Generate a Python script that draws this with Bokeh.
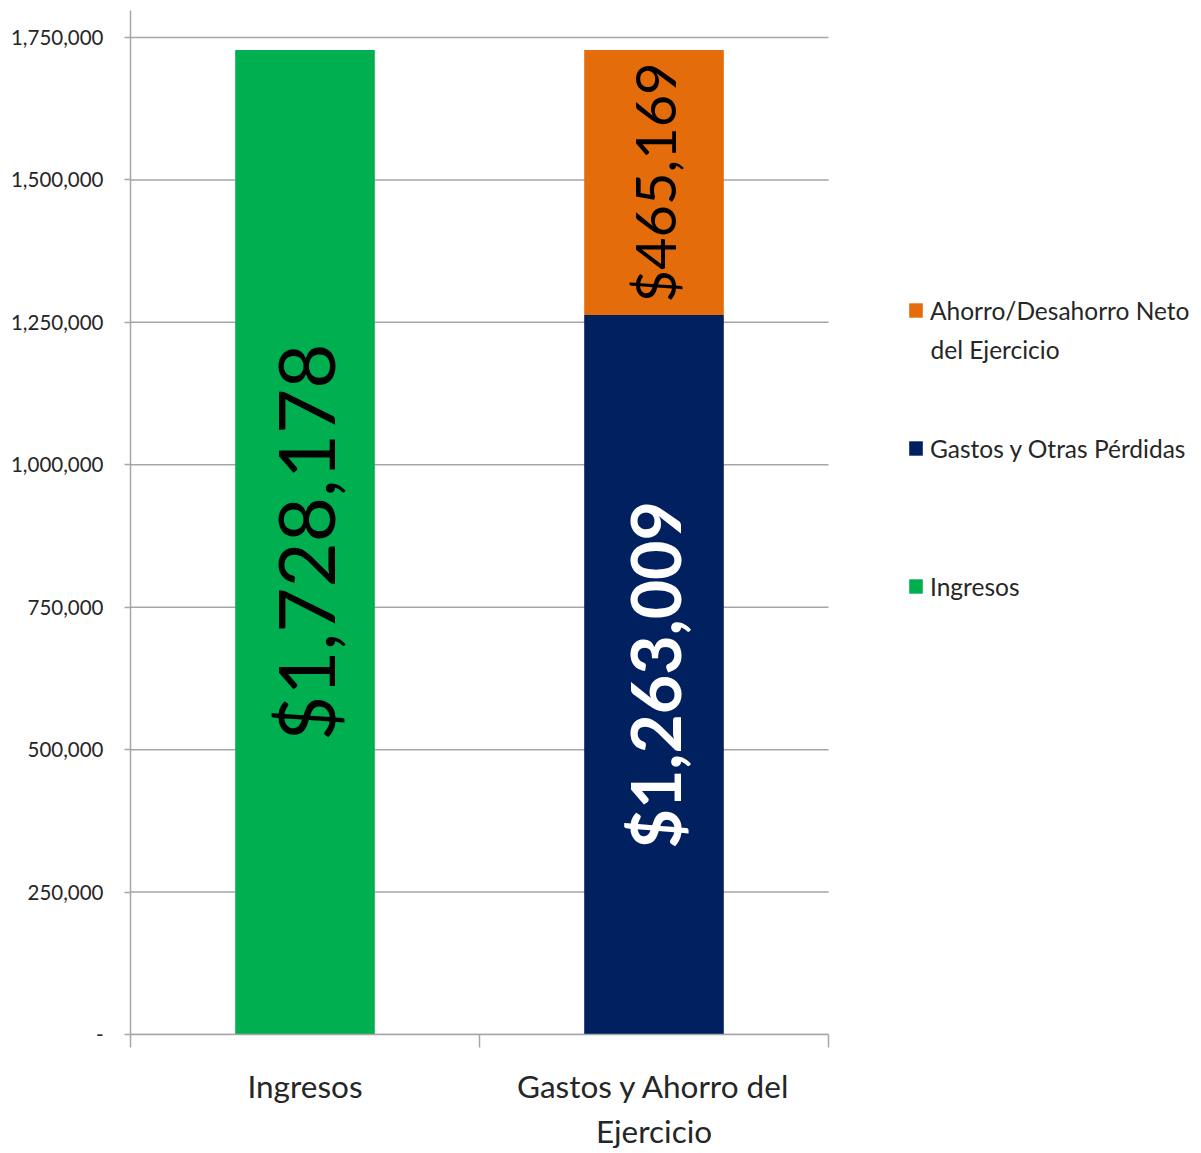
import numpy as np
from bokeh.plotting import figure
from bokeh.models import Range1d, FixedTicker, Legend, LegendItem, Label
from bokeh.core.properties import value
from bokeh.embed import file_html
from bokeh.resources import INLINE

# ---- data ----
categories = ["Ingresos", "Gastos y Ahorro del\nEjercicio"]
series_names = ["Ingresos", "Gastos y Otras Pérdidas", "Ahorro/Desahorro Neto", "del Ejercicio"]
ingresos = [1728178, 0]
gastos = [0, 1263009]
ahorro = [0, 465169]
y_ticks = [0, 250000, 500000, 750000, 1000000, 1250000, 1500000, 1750000]
y_tick_labels = ["-", "250,000", "500,000", "750,000", "1,000,000", "1,250,000", "1,500,000", "1,750,000"]

colors = ["#00B050", "#002060", "#E46C0A"]
FONT = "Lato"
GRID = "#a6a6a6"
TXT = "#262626"

n = len(categories)
x = np.arange(n) + 0.5
series = [np.array(ingresos), np.array(gastos), np.array(ahorro)]

# frame spans to the right edge so that the legend sits inside it;
# the category area itself is 698 px wide
x_end = n * 1071 / 698
p = figure(width=1201, height=1153, output_backend="svg", toolbar_location=None,
           x_range=Range1d(0, x_end), y_range=Range1d(0, 1797400),
           min_border_left=130, min_border_right=0, min_border_top=10, min_border_bottom=119)
p.outline_line_color = None
p.background_fill_color = "white"

# horizontal gridlines limited to the category area
p.xgrid.visible = False
p.ygrid.visible = False
p.segment(x0=[0] * len(y_ticks), x1=[n] * len(y_ticks), y0=y_ticks, y1=y_ticks,
          line_color=GRID, line_width=1.5)

bottom = np.zeros(n)
renderers = []
label_styles = [
    dict(size="78px", style="normal", color="black"),
    dict(size="68px", style="bold", color="white"),
    dict(size="56px", style="normal", color="black"),
]
for vals, col, st in zip(series, colors, label_styles):
    top = bottom + vals
    r = p.vbar(x=x, bottom=bottom, top=top, width=0.4, fill_color=col, line_color=None)
    renderers.append(r)
    mask = vals > 0
    p.text(x=x[mask], y=(bottom + vals / 2)[mask],
           text=["${:,}".format(int(v)) for v in vals[mask]],
           angle=np.pi / 2, text_align="center", text_baseline="middle",
           text_font=value(FONT), text_font_size=st["size"], text_font_style=st["style"],
           text_color=st["color"])
    bottom = top

# y axis
p.yaxis.ticker = FixedTicker(ticks=y_ticks)
p.yaxis.major_label_overrides = {t: l for t, l in zip(y_ticks, y_tick_labels)}
p.yaxis.major_label_text_font = FONT
p.yaxis.major_label_text_font_size = "20.5px"
p.yaxis.major_label_text_color = TXT
p.yaxis.major_tick_out = 6
p.yaxis.major_tick_in = 0
p.yaxis.minor_tick_line_color = None
p.yaxis.major_label_standoff = 21
p.yaxis.axis_line_color = GRID
p.yaxis.axis_line_width = 1.5
p.yaxis.major_tick_line_color = GRID
p.yaxis.major_tick_line_width = 1.5

# x axis
p.xaxis.bounds = (0, n)
p.xaxis.ticker = FixedTicker(ticks=list(x), minor_ticks=list(range(n + 1)))
p.xaxis.major_label_overrides = {float(xi): c for xi, c in zip(x, categories)}
p.xaxis.major_tick_line_color = None
p.xaxis.major_tick_out = 0
p.xaxis.major_tick_in = 0
p.xaxis.minor_tick_out = 13
p.xaxis.minor_tick_in = 0
p.xaxis.minor_tick_line_color = GRID
p.xaxis.minor_tick_line_width = 1.5
p.xaxis.axis_line_color = GRID
p.xaxis.axis_line_width = 1.5
p.xaxis.major_label_text_font = FONT
p.xaxis.major_label_text_font_size = "31.5px"
p.xaxis.major_label_text_line_height = 1.2
p.xaxis.major_label_text_color = TXT
p.xaxis.major_label_standoff = 19

# legend (reverse order like the original)
items = [LegendItem(label=series_names[2], renderers=[renderers[2]]),
         LegendItem(label=series_names[1], renderers=[renderers[1]]),
         LegendItem(label=series_names[0], renderers=[renderers[0]])]
legend = Legend(items=items, location=(777, 433), orientation="vertical",
                label_text_font=FONT, label_text_font_size="24.5px", label_text_color=TXT,
                glyph_width=17, glyph_height=18, label_standoff=6, label_height=30,
                spacing=108, padding=0, margin=0, border_line_color=None,
                background_fill_alpha=0)
p.add_layout(legend, "center")

# second line of the first legend entry
p.add_layout(Label(x=(930 - 130) / 349, y=(1034 - 349) / 997 * 1750000, text=series_names[3],
                   text_font=FONT, text_font_size="24.5px", text_color=TXT,
                   text_baseline="alphabetic"))

open("out.html", "w").write(file_html(p, INLINE))
